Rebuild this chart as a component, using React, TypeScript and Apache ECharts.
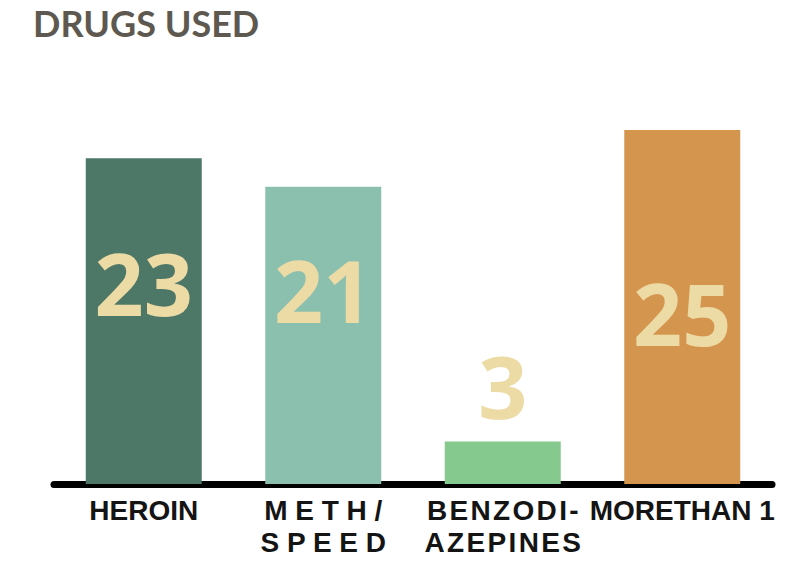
import { useEffect, useRef } from "react";
import * as echarts from "echarts";

const categories = ["HEROIN", "METH/SPEED", "BENZODIAZEPINES", "MORE THAN 1"];
const values = [23, 21, 3, 25];
const tickLabels = [
  "HEROIN",
  "M E T H /\nS P E E D",
  "B\u200AE\u200AN\u200AZ\u200AO\u200AD\u200AI\u200A-\nA\u200AZ\u200AE\u200AP\u200AI\u200AN\u200AE\u200AS",
  "MORETHAN 1",
];

const barColors = ["#4d7767", "#8bbfae", "#86c98e", "#d4964f"];
const labelDy = [124, 103, -56, 182];

export default function App() {
  const ref = useRef<HTMLDivElement>(null);
  useEffect(() => {
    if (!ref.current) return;
    const chart = echarts.init(ref.current, undefined, { renderer: "svg" });
    chart.setOption({
      animation: false,
      backgroundColor: "#ffffff",
      title: {
        text: "DRUGS USED",
        left: 28,
        top: 0,
        textStyle: {
          fontFamily: "Lato",
          fontWeight: "bold",
          fontSize: 36,
          color: "#5e5950",
        },
      },
      grid: { left: 54, right: 28, top: 130, bottom: 81 },
      xAxis: {
        type: "category",
        data: categories,
        axisLine: { show: true, lineStyle: { color: "#000000", width: 7 } },
        axisTick: { show: false },
        axisLabel: {
          margin: 10,
          interval: 0,
          fontFamily: "Liberation Sans",
          fontWeight: "bold",
          fontSize: 28,
          lineHeight: 32,
          color: "#141414",
          formatter: (_v: string, i: number) => tickLabels[i],
        },
      },
      yAxis: {
        type: "value",
        min: 0,
        max: 25,
        show: false,
        splitLine: { show: false },
      },
      series: [
        {
          type: "bar",
          barWidth: 116,
          data: values.map((v, i) => ({
            value: v,
            itemStyle: { color: barColors[i] },
            label: {
              show: true,
              position: ["50%", labelDy[i]],
              align: "center",
              verticalAlign: "middle",
            },
          })),
          label: {
            show: true,
            fontFamily: "Open Sans",
            fontWeight: "bold",
            fontSize: 86,
            color: "#eddba6",
          },
        },
      ],
    });
    return () => chart.dispose();
  }, []);
  return (
    <div
      ref={ref}
      style={{ position: "absolute", left: 0, top: 0, width: 800, height: 565 }}
    />
  );
}
